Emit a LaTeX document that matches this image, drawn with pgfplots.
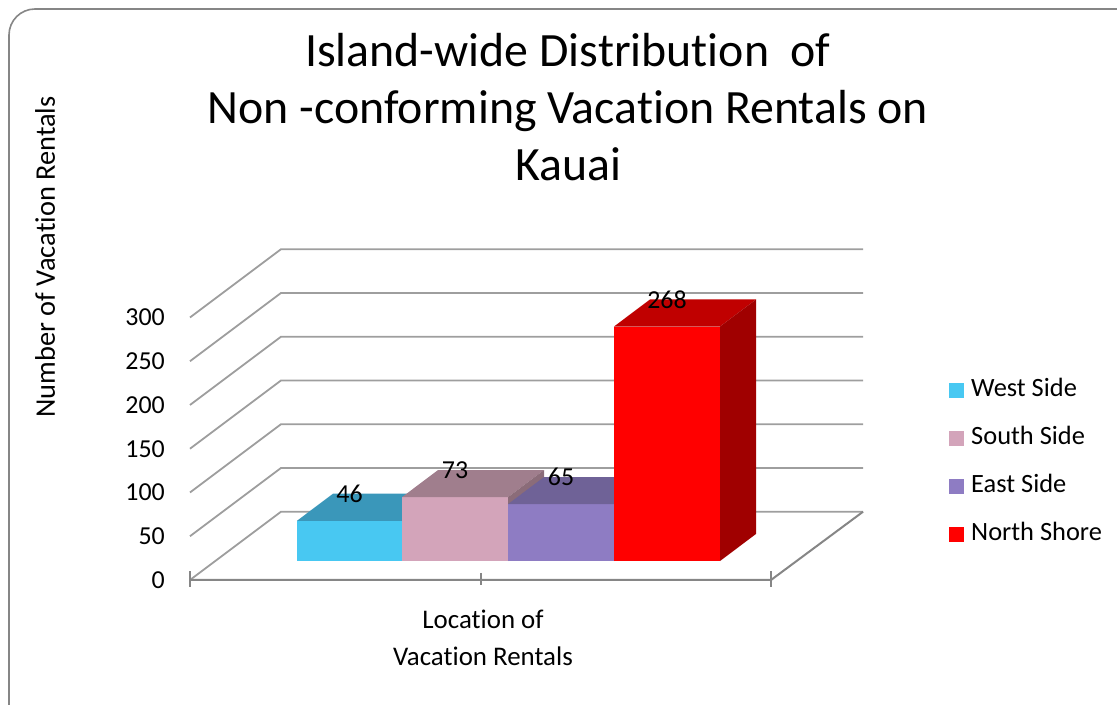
\documentclass[border=0pt]{standalone}
\usepackage{pgfplots}
\pgfplotsset{compat=1.18}
\usepackage{fontspec}
\setmainfont{Carlito}[Ligatures=NoCommon]
\definecolor{gridc}{RGB}{158,158,158}
\definecolor{floorc}{RGB}{134,134,134}
\definecolor{westf}{HTML}{48C8F2}
\definecolor{westt}{HTML}{3A97BA}
\definecolor{southf}{HTML}{D3A4BA}
\definecolor{southt}{HTML}{A07E8D}
\definecolor{souths}{HTML}{8B6C79}
\definecolor{eastf}{HTML}{8E7CC3}
\definecolor{eastt}{HTML}{6F6297}
\definecolor{easts}{HTML}{5E5282}
\definecolor{northf}{HTML}{FF0000}
\definecolor{northt}{HTML}{C00000}
\definecolor{norths}{HTML}{A00000}
\begin{document}
\begin{tikzpicture}[x=1bp,y=1bp]
\useasboundingbox (0,0) rectangle (1117,705);
\draw[rounded corners=26bp, line width=1.6bp, color=floorc] (9,-40) rectangle (1160,696);
\node[align=center, font=\fontsize{48}{57}\selectfont] at (568,598) {Island-wide Distribution~ of\\Non -conforming Vacation Rentals on\\Kauai};
\node[rotate=90, font=\fontsize{28.5}{33}\selectfont] at (45,448) {Number of Vacation Rentals};
\node[align=center, font=\fontsize{27}{37}\selectfont] at (483,67) {Location of\\Vacation Rentals};
\begin{axis}[
  at={(190bp,125bp)}, anchor=south west,
  scale only axis, width=673bp, height=332.5bp,
  xmin=0, xmax=673, ymin=0, ymax=380,
  axis line style={draw=none},
  clip=false,
  xtick=\empty,
  ytick={0,50,100,150,200,250,300},
  major tick length=0pt,
  /pgf/number format/assume math mode=true,
  yticklabel style={font=\fontsize{26}{30}\selectfont, anchor=east, inner sep=0pt, xshift=-25bp},
  legend image code/.code={\fill[#1, draw=none] (0bp,-7.5bp) rectangle (15bp,7.5bp);},
  legend cell align=left,
  legend style={at={(axis cs:759,230.3)}, anchor=north west, draw=none, fill=none,
    font=\fontsize{26.5}{30}\selectfont, inner sep=0pt, row sep=24bp,
    nodes={inner sep=0pt, text height=18bp, text depth=6bp},
    /tikz/every odd column/.append style={column sep=7bp}},
  gridl/.style={color=gridc, line width=1.8bp, forget plot},
  floorl/.style={color=floorc, line width=2bp, forget plot},
]
% back wall and left wall gridlines
\addplot[gridl] coordinates {(0,0) (91,78) (673,78)};
\addplot[gridl] coordinates {(0,50) (91,128) (673,128)};
\addplot[gridl] coordinates {(0,100) (91,178) (673,178)};
\addplot[gridl] coordinates {(0,150) (91,228) (673,228)};
\addplot[gridl] coordinates {(0,200) (91,278) (673,278)};
\addplot[gridl] coordinates {(0,250) (91,328) (673,328)};
\addplot[gridl] coordinates {(0,300) (91,378) (673,378)};
% floor front and right edges, ticks
\addplot[floorl] coordinates {(0,0) (581,0) (673,78)};
\addplot[floorl] coordinates {(0,10) (0,-8)};
\addplot[floorl] coordinates {(291,8) (291,-6)};
\addplot[floorl] coordinates {(581,10) (581,-8)};
% West Side 46
\addplot[fill=westf, draw=none, forget plot] coordinates {(107,21.7) (212,21.7) (212,67.7) (107,67.7)} -- cycle;
\addplot[fill=westt, draw=none, forget plot] coordinates {(107,67.7) (212,67.7) (248,98.6) (143,98.6)} -- cycle;
% South Side 73
\addplot[fill=southf, draw=none, forget plot] coordinates {(212,21.7) (318,21.7) (318,94.7) (212,94.7)} -- cycle;
\addplot[fill=southt, draw=none, forget plot] coordinates {(212,94.7) (318,94.7) (354,125.6) (248,125.6)} -- cycle;
\addplot[fill=souths, draw=none, forget plot] coordinates {(318,21.7) (354,52.6) (354,125.6) (318,94.7)} -- cycle;
% East Side 65
\addplot[fill=easts, draw=none, forget plot] coordinates {(424,21.7) (460,52.6) (460,117.6) (424,86.7)} -- cycle;
\addplot[fill=eastf, draw=none, forget plot] coordinates {(318,21.7) (424,21.7) (424,86.7) (318,86.7)} -- cycle;
\addplot[fill=eastt, draw=none, forget plot] coordinates {(318,86.7) (424,86.7) (460,117.6) (354,117.6)} -- cycle;
% North Shore 268
\addplot[fill=northf, draw=none, forget plot] coordinates {(424,21.7) (530,21.7) (530,289.7) (424,289.7)} -- cycle;
\addplot[fill=northt, draw=none, forget plot] coordinates {(424,289.7) (530,289.7) (566,320.6) (460,320.6)} -- cycle;
\addplot[fill=norths, draw=none, forget plot] coordinates {(530,21.7) (566,52.6) (566,320.6) (530,289.7)} -- cycle;
% data labels
\addplot[draw=none, mark=none, forget plot, nodes near coords, point meta=explicit symbolic,
  every node near coord/.append style={anchor=center, inner sep=0pt, font=\fontsize{26}{30}\selectfont}]
  coordinates {(159.5,98.6) [46] (265,125.6) [73] (371,117.6) [65] (477,320.6) [268]};
\addlegendimage{fill=westf}
\addlegendentry{West Side}
\addlegendimage{fill=southf}
\addlegendentry{South Side}
\addlegendimage{fill=eastf}
\addlegendentry{East Side}
\addlegendimage{fill=northf}
\addlegendentry{North Shore}
\end{axis}
\end{tikzpicture}
\end{document}
